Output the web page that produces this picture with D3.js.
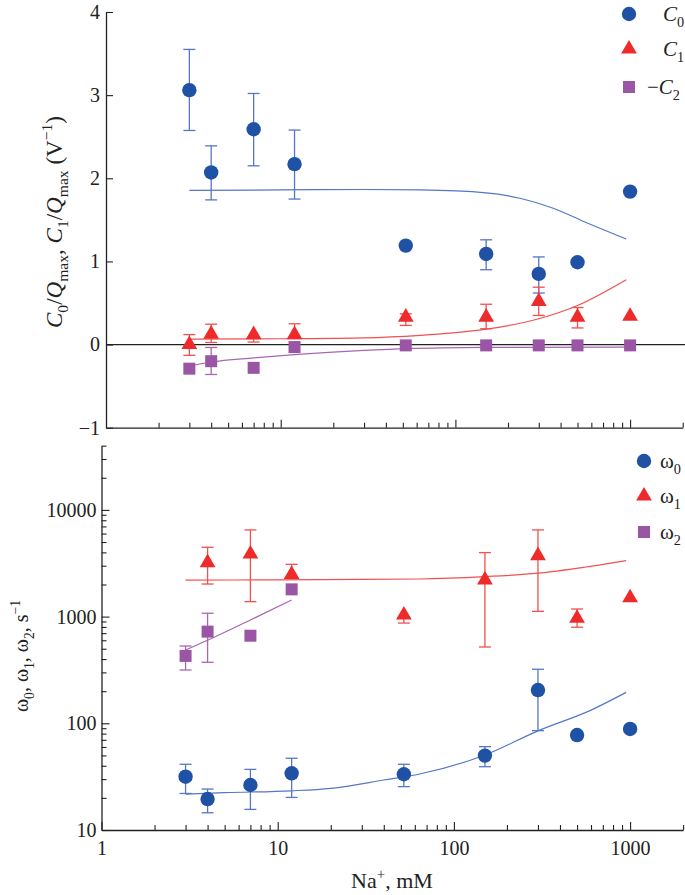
<!DOCTYPE html>
<html><head><meta charset="utf-8">
<script src="https://cdn.jsdelivr.net/npm/d3@7"></script>
<style>
body{margin:0;background:#fff}
svg{display:block}
text{font-family:"Liberation Serif","Times New Roman",serif;fill:#222}
</style>
</head><body>
<svg id="chart" width="685" height="895"></svg>
<script>
// ---------- data ----------
const naConc = [3, 4, 7, 12, 52, 150, 300, 500, 1000];

const c0    = [3.06, 2.07, 2.59, 2.17, 1.19, 1.09, 0.85, 0.99, 1.84];
const c0Lo  = [2.575, 1.74, 2.15, 1.75, null, 0.90, 0.62, null, null];
const c0Hi  = [3.55, 2.39, 3.02, 2.58, null, 1.26, 1.054, null, null];

const c1    = [0.0, 0.125, 0.12, 0.12, 0.33, 0.33, 0.52, 0.33, 0.34];
const c1Lo  = [-0.13, 0.025, 0.03, null, 0.23, 0.19, 0.35, 0.2, null];
const c1Hi  = [0.12, 0.245, null, 0.25, 0.37, 0.485, 0.69, 0.445, null];

const c2neg   = [-0.29, -0.2, -0.28, -0.03, -0.01, -0.01, -0.01, -0.01, -0.01];
const c2negLo = [null, -0.36, null, null, null, null, null, null, null];
const c2negHi = [null, -0.035, null, null, null, null, null, null, null];

const c0FitX = [3, 10, 30, 63, 150, 234, 363, 564, 950];
const c0FitY = [1.855, 1.86, 1.865, 1.86, 1.825, 1.76, 1.64, 1.465, 1.27];
const c1FitX = [3, 10, 30, 63, 97, 150, 300, 500, 950];
const c1FitY = [0.065, 0.07, 0.08, 0.11, 0.14, 0.185, 0.31, 0.47, 0.78];
const c2FitX = [3, 4, 7, 12, 30, 52, 150, 950];
const c2FitY = [-0.26, -0.21, -0.16, -0.12, -0.07, -0.05, -0.035, -0.03];

const w0    = [31.6, 19.5, 26.4, 34, 33.3, 49.8, 205, 77.6, 88.5];
const w0Lo  = [22, 14.5, 15.6, 20.2, 25.5, 39.2, 85.3, null, null];
const w0Hi  = [41.3, 24.2, 37, 47, 41.3, 60.4, 321, null, null];

const w1X   = [4, 7, 12, 52, 150, 300, 500, 1000];
const w1    = [3200, 3860, 2490, 1035, 2210, 3720, 964, 1500];
const w1Lo  = [2020, 1380, null, 870, 519, 1120, 795, null];
const w1Hi  = [4460, 6490, 3090, null, 3980, 6490, 1178, null];

const w2X   = [3, 4, 7, 12];
const w2    = [428, 723, 662, 1800];
const w2Lo  = [316, 373, null, null];
const w2Hi  = [530, 1075, null, null];

const w0FitX = [3, 5, 12, 20, 40, 64, 150, 300, 600, 950];
const w0FitY = [21.7, 22.4, 23.3, 24.6, 29.4, 33.5, 50.5, 85, 133, 195];
const w1FitX = [3, 10, 30, 64, 150, 300, 550, 950];
const w1FitY = [2200, 2210, 2230, 2250, 2370, 2550, 2900, 3340];
const w2FitX = [3, 4, 7, 12];
const w2FitY = [486, 600, 930, 1430];

const topYTicks = [-1, 0, 1, 2, 3, 4];
const botYTicks = [10, 100, 1000, 10000];
const xTickLabels = [1, 10, 100, 1000];

// ---------- styles ----------
const BLUE = "#1f52a5", BLUE_L = "#5577c6";
const RED = "#ee2b2b", RED_L = "#f05050";
const PURP = "#9b55a5", PURP_L = "#a866b2";

const svg = d3.select("#chart");

// scales
const xT = d3.scaleLog().domain([1, 2000]).range([106, 106 + Math.log10(2000) * 174.7]);
const yT = d3.scaleLinear().domain([-1, 4]).range([427.7, 12]);
const xB = d3.scaleLog().domain([1, 2000]).range([101.5, 101.5 + Math.log10(2000) * 176.2]);
const yB = d3.scaleLog().domain([10, 40000]).range([830, 830 - Math.log10(4000) * 106.7]);

function minorLog(lo, hi) {
  const out = [];
  for (let p = Math.floor(Math.log10(lo)); p <= Math.ceil(Math.log10(hi)); p++) {
    for (let m = 2; m <= 9; m++) { const v = m * Math.pow(10, p); if (v >= lo && v <= hi) out.push(v); }
  }
  return out;
}
function styleAxis(g) {
  g.select(".domain").attr("stroke", "#222").attr("stroke-width", 1.3);
  g.selectAll(".tick line").attr("stroke", "#222").attr("stroke-width", 1.1);
  g.selectAll("text").attr("fill", "#222").style("font-size", "20px")
    .style("font-family", '"Liberation Serif","Times New Roman",serif');
}

// rich text helper
function rich(g, parts, size) {
  let cur = 0;
  parts.forEach(([t, s]) => {
    let off = 0, fs = size;
    if (s.includes("sub")) { off = 0.28 * size; fs = size * 0.68; }
    if (s.includes("sup")) { off = -0.42 * size; fs = size * 0.68; }
    const ts = g.append("tspan").text(t).attr("dy", off - cur).style("font-size", fs + "px");
    if (s.includes("i")) ts.style("font-style", "italic");
    cur = off;
  });
}

// ---------- top panel axes ----------
svg.append("g").attr("transform", "translate(106,0)")
  .call(d3.axisLeft(yT).tickValues(topYTicks).tickFormat(d => d < 0 ? "\u2212" + Math.abs(d) : d)
    .tickSizeInner(-7).tickSizeOuter(0).tickPadding(6))
  .call(styleAxis);
svg.append("g").attr("transform", "translate(0,427.7)")
  .call(d3.axisBottom(xT).tickValues([10, 100, 1000]).tickFormat("").tickSizeInner(-8).tickSizeOuter(0))
  .call(styleAxis);
svg.append("g").attr("transform", "translate(0,427.7)")
  .call(d3.axisBottom(xT).tickValues(minorLog(1, 2000)).tickFormat("").tickSizeInner(-5).tickSizeOuter(0))
  .call(styleAxis).select(".domain").remove();

// zero line
svg.append("line").attr("x1", xT(1)).attr("x2", 685).attr("y1", yT(0)).attr("y2", yT(0))
  .attr("stroke", "#222").attr("stroke-width", 1.2);

// ---------- bottom panel axes ----------
svg.append("g").attr("transform", "translate(101.5,0)")
  .call(d3.axisLeft(yB).tickValues(botYTicks).tickFormat(d3.format("d"))
    .tickSizeInner(-8).tickSizeOuter(0).tickPadding(5))
  .call(styleAxis);
svg.append("g").attr("transform", "translate(101.5,0)")
  .call(d3.axisLeft(yB).tickValues(minorLog(10, 40000)).tickFormat("").tickSizeInner(-5).tickSizeOuter(0))
  .call(styleAxis).select(".domain").remove();
svg.append("g").attr("transform", "translate(0,830)")
  .call(d3.axisBottom(xB).tickValues(xTickLabels).tickFormat(d3.format("d"))
    .tickSizeInner(-8).tickSizeOuter(0).tickPadding(11))
  .call(styleAxis);
svg.append("g").attr("transform", "translate(0,830)")
  .call(d3.axisBottom(xB).tickValues(minorLog(1, 2000)).tickFormat("").tickSizeInner(-5).tickSizeOuter(0))
  .call(styleAxis).select(".domain").remove();

// ---------- drawing helpers ----------
function fitLine(xs, ys, xS, yS, color) {
  const pts = xs.map((x, i) => [x, ys[i]]);
  svg.append("path").datum(pts)
    .attr("d", d3.line().x(d => xS(d[0])).y(d => yS(d[1])).curve(d3.curveMonotoneX))
    .attr("fill", "none").attr("stroke", color).attr("stroke-width", 1.2);
}
function errBars(xs, ys, lo, hi, xS, yS, color) {
  const g = svg.append("g").attr("stroke", color).attr("stroke-width", 1.3).attr("fill", "none");
  xs.forEach((x, i) => {
    if (lo[i] == null && hi[i] == null) return;
    const cx = xS(x);
    const a = yS(lo[i] != null ? lo[i] : ys[i]);
    const b = yS(hi[i] != null ? hi[i] : ys[i]);
    g.append("line").attr("x1", cx).attr("x2", cx).attr("y1", a).attr("y2", b);
    if (lo[i] != null) g.append("line").attr("x1", cx - 6).attr("x2", cx + 6).attr("y1", a).attr("y2", a);
    if (hi[i] != null) g.append("line").attr("x1", cx - 6).attr("x2", cx + 6).attr("y1", b).attr("y2", b);
  });
}
const SYM = {
  circle: d3.symbol().type(d3.symbolCircle).size(Math.PI * 7.2 * 7.2),
  triangle: d3.symbol().type(d3.symbolTriangle).size(108),
  square: d3.symbol().type(d3.symbolSquare).size(144)
};
function markers(xs, ys, xS, yS, type, color) {
  svg.append("g").selectAll("path").data(xs.map((x, i) => [x, ys[i]])).join("path")
    .attr("d", SYM[type]())
    .attr("transform", d => `translate(${xS(d[0])},${yS(d[1])})`)
    .attr("fill", color);
}

// ---------- top panel marks ----------
fitLine(c0FitX, c0FitY, xT, yT, BLUE_L);
fitLine(c1FitX, c1FitY, xT, yT, RED_L);
fitLine(c2FitX, c2FitY, xT, yT, PURP_L);
errBars(naConc, c0, c0Lo, c0Hi, xT, yT, BLUE_L);
errBars(naConc, c1, c1Lo, c1Hi, xT, yT, RED_L);
errBars(naConc, c2neg, c2negLo, c2negHi, xT, yT, PURP_L);
markers(naConc, c2neg, xT, yT, "square", PURP);
markers(naConc, c1, xT, yT, "triangle", RED);
markers(naConc, c0, xT, yT, "circle", BLUE);

// ---------- bottom panel marks ----------
fitLine(w0FitX, w0FitY, xB, yB, BLUE_L);
fitLine(w1FitX, w1FitY, xB, yB, RED_L);
fitLine(w2FitX, w2FitY, xB, yB, PURP_L);
errBars(naConc, w0, w0Lo, w0Hi, xB, yB, BLUE_L);
errBars(w1X, w1, w1Lo, w1Hi, xB, yB, RED_L);
errBars(w2X, w2, w2Lo, w2Hi, xB, yB, PURP_L);
markers(w2X, w2, xB, yB, "square", PURP);
markers(w1X, w1, xB, yB, "triangle", RED);
markers(naConc, w0, xB, yB, "circle", BLUE);

// ---------- legends ----------
function legend(items, x0, tx) {
  items.forEach(it => {
    svg.append("path").attr("d", SYM[it.type]()).attr("fill", it.color)
      .attr("transform", `translate(${x0},${it.y})`);
    const t = svg.append("text").attr("x", it.tx != null ? it.tx : tx).attr("y", it.y + 7).style("font-size", "21px");
    rich(t, it.parts, 21);
  });
}
legend([
  {type: "circle", color: BLUE, y: 14, parts: [["C", "i"], ["0", "sub"]]},
  {type: "triangle", color: RED, y: 49, parts: [["C", "i"], ["1", "sub"]]},
  {type: "square", color: PURP, y: 87, tx: 647, parts: [["\u2212", ""], ["C", "i"], ["2", "sub"]]}
], 629, 663);
legend([
  {type: "circle", color: BLUE, y: 461, parts: [["\u03c9", ""], ["0", "sub"]]},
  {type: "triangle", color: RED, y: 496, parts: [["\u03c9", ""], ["1", "sub"]]},
  {type: "square", color: PURP, y: 532, parts: [["\u03c9", ""], ["2", "sub"]]}
], 644, 660);

// ---------- axis titles ----------
const yt1 = svg.append("text").attr("transform", "translate(62,222) rotate(-90)")
  .attr("text-anchor", "middle").style("font-size", "23px");
rich(yt1, [["C", "i"], ["0", "sub"], ["/", ""], ["Q", "i"], ["max", "sub"], [", ", ""], ["C", "i"], ["1", "sub"],
  ["/", ""], ["Q", "i"], ["max", "sub"], [" (V", ""], ["\u22121", "sup"], [")", ""]], 23);

const yt2 = svg.append("text").attr("transform", "translate(28,656) rotate(-90)")
  .attr("text-anchor", "middle").style("font-size", "20px");
rich(yt2, [["\u03c9", ""], ["0", "sub"], [", \u03c9", ""], ["1", "sub"], [", \u03c9", ""], ["2", "sub"],
  [", s", ""], ["\u22121", "sup"]], 20);

const xt = svg.append("text").attr("x", 392).attr("y", 888).attr("text-anchor", "middle").style("font-size", "22px");
rich(xt, [["Na", ""], ["+", "sup"], [", mM", ""]], 22);
</script>
</body></html>
